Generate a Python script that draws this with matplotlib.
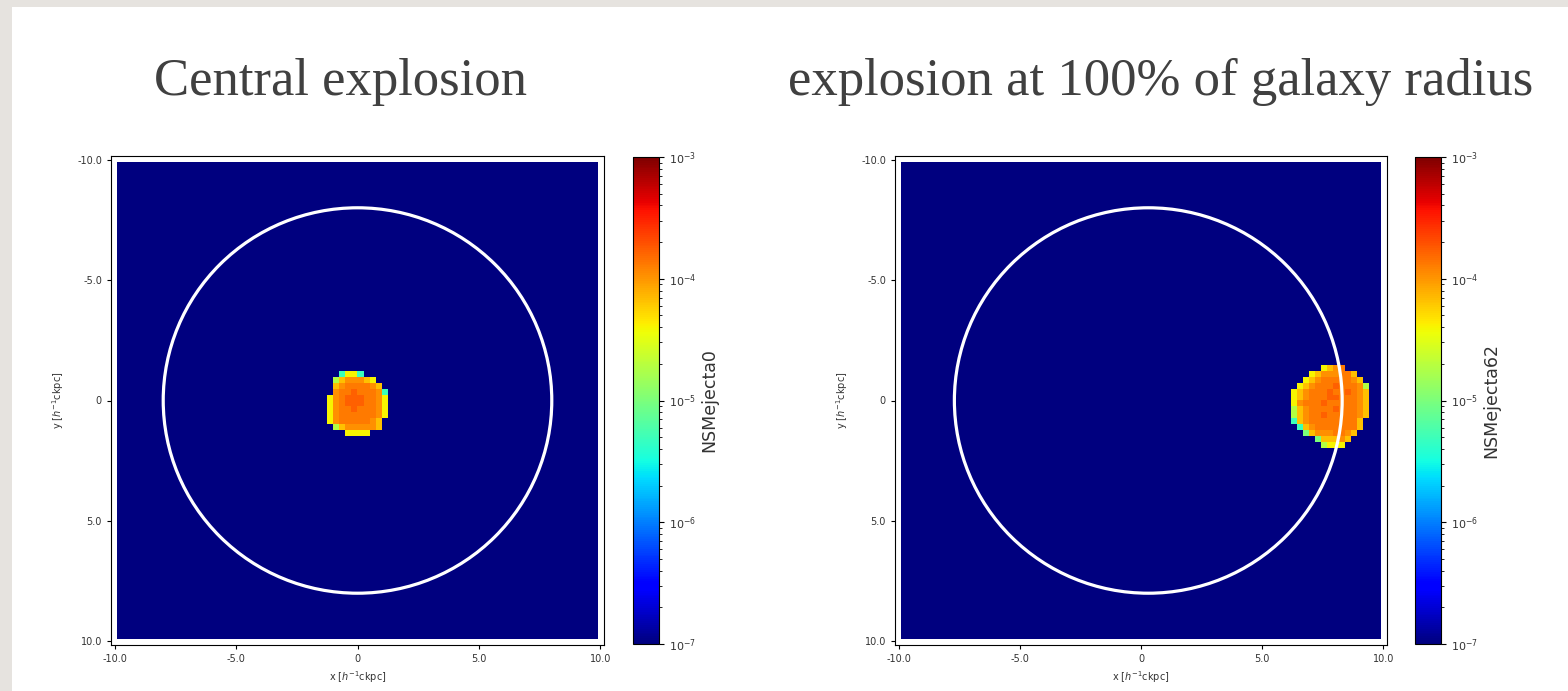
import numpy as np
import matplotlib
matplotlib.use("Agg")
import matplotlib.pyplot as plt
from matplotlib.colors import LogNorm
from matplotlib.patches import Circle, Rectangle

# panel titles / colorbar labels
titles = ["Central explosion", "explosion at 100% of galaxy radius"]
cbar_labels = ["NSMejecta0", "NSMejecta62"]

# ticks
tick_vals = [-10, -5, 0, 5, 10]
tick_labels = ["-10.0", "-5.0", "0", "5.0", "10.0"]

# grid / galaxy
n_cells = 80
grid_half = 9.9
galaxy_radius = 8.0
galaxy_centers = [(0.0, 0.0), (0.3, 0.0)]
background = 1e-7

# log10 levels of the pixel codes
levels = {"R": -3.78, "O": -3.88, "o": -3.98, "A": -4.18, "Y": -4.4,
          "g": -4.72, "G": -5.0, "C": -5.3}

# ejecta blobs (rows top -> bottom), '.' = empty
blob_central = [
    "..CYYC....",
    ".gAoooAY..",
    ".AoOOOOoA.",
    ".oOOROOOoC",
    "YoORRROOoY",
    "YoORRROOoY",
    "YoOOROOOoY",
    "YoOOOOOOoY",
    "YoOOOOOoA.",
    ".gAoooooA.",
    "...YYYY...",
]
blob_edge = [
    ".....YAoO....",
    "...YAoooOOA..",
    "..YAoOOOOOoA.",
    ".YAoOOOROOOog",
    "YAoOOOROOROoA",
    "YAoOOORROOOoA",
    "YoOOOROOOOOoA",
    "gAoOOOOROOOoA",
    "gAoOOROOOOOoA",
    "CAoOOOOOOOOA.",
    ".CAoOOOOOOOA.",
    "..GAoooOOoA..",
    "....GAAAoA...",
    ".....gYYY....",
]
blobs = [blob_central, blob_edge]
blob_centers = [(0.12, 0.06), (7.77, 0.14)]   # (x, y) in h^-1 ckpc

W, H = 1568, 691


def px_box(l, t, r, b):
    return [l / W, 1 - b / H, (r - l) / W, (b - t) / H]


def make_map(blob, center):
    m = np.full((n_cells, n_cells), background)
    cell = 2 * grid_half / n_cells
    nr, nc = len(blob), len(blob[0])
    r0 = int(round((center[1] + grid_half) / cell - nr / 2))
    c0 = int(round((center[0] + grid_half) / cell - nc / 2))
    for i, row in enumerate(blob):
        for j, ch in enumerate(row):
            if ch != ".":
                m[r0 + i, c0 + j] = 10 ** levels[ch]
    return m


fig = plt.figure(figsize=(W / 100, H / 100), dpi=100)
fig.patch.set_facecolor("#e6e3df")
fig.add_artist(Rectangle((12 / W, 0), 1 - 12 / W, (H - 7) / H,
                         transform=fig.transFigure, facecolor="white",
                         edgecolor="none", zorder=0))

ax_boxes = [(111, 156, 604, 645), (895, 156, 1387, 645)]
cb_boxes = [(633, 157, 659, 644), (1415, 157, 1441, 644)]
title_x = [340, 1161]

norm = LogNorm(vmin=1e-7, vmax=1e-3)
for k in range(2):
    ax = fig.add_axes(px_box(*ax_boxes[k]))
    data = make_map(blobs[k], blob_centers[k])
    im = ax.imshow(data, cmap="jet", norm=norm, origin="upper",
                   extent=(-grid_half, grid_half, grid_half, -grid_half),
                   interpolation="nearest", aspect="auto")
    ax.set_xlim(-10.15, 10.15)
    ax.set_ylim(10.15, -10.15)
    ax.add_patch(Circle(galaxy_centers[k], galaxy_radius, fill=False,
                        ec="white", lw=2.3))
    ax.set_xticks(tick_vals)
    ax.set_xticklabels(tick_labels)
    ax.set_yticks(tick_vals)
    ax.set_yticklabels(tick_labels)
    ax.tick_params(labelsize=7, labelcolor="#333333", length=3, width=0.8)
    ax.set_xlabel(r"x [$h^{-1}$ckpc]", fontsize=7, color="#333333")
    ax.set_ylabel(r"y [$h^{-1}$ckpc]", fontsize=7, color="#333333", labelpad=8)

    cax = fig.add_axes(px_box(*cb_boxes[k]))
    cb = fig.colorbar(im, cax=cax)
    cb.ax.tick_params(labelsize=8, labelcolor="#333333")
    cb.set_label(cbar_labels[k], fontsize=12.5, color="#333333", labelpad=3)

    fig.text(title_x[k] / W, 1 - 95 / H, titles[k], ha="center",
             va="baseline", fontsize=38, family="Liberation Serif",
             color="#404040")

fig.savefig("out.png", dpi=100, facecolor=fig.get_facecolor())
